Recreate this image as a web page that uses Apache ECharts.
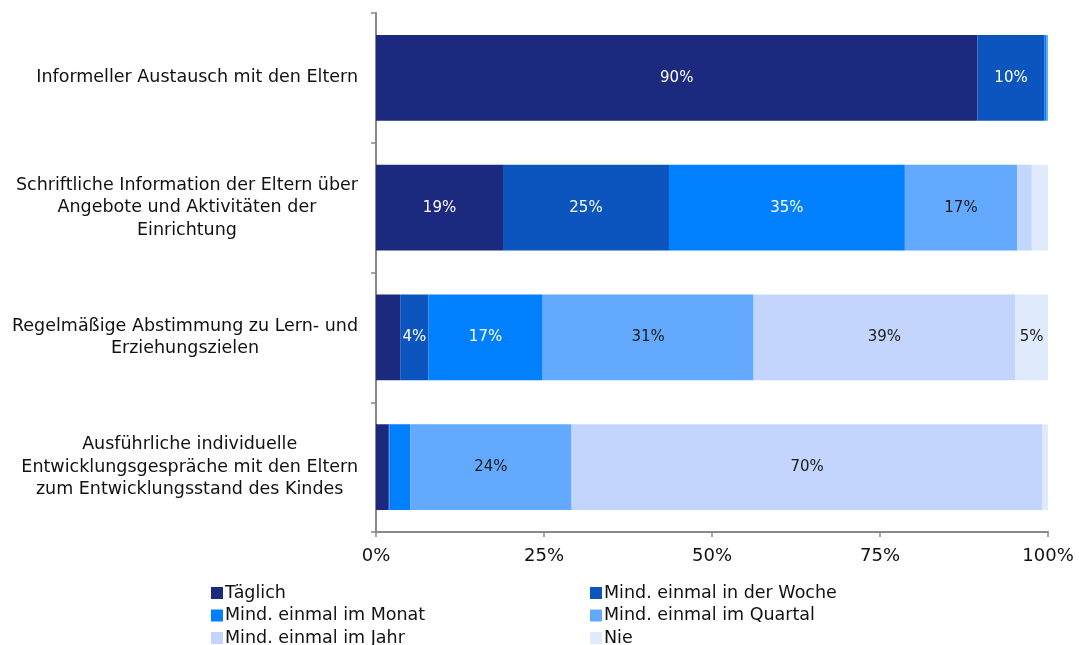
<!DOCTYPE html>
<html>
<head>
<meta charset="utf-8">
<script src="https://cdn.jsdelivr.net/npm/echarts@6/dist/echarts.min.js"></script>
<style>
  html, body { margin: 0; padding: 0; background: #fff; }
  #chart { width: 1079px; height: 645px; }
</style>
</head>
<body>
<div id="chart"></div>
<script>
// Kategorien (von oben nach unten)
const categories = [
  'Informeller Austausch mit den Eltern',
  'Schriftliche Information der Eltern über\nAngebote und Aktivitäten der\nEinrichtung',
  'Regelmäßige Abstimmung zu Lern- und\nErziehungszielen',
  'Ausführliche individuelle\nEntwicklungsgespräche mit den Eltern\nzum Entwicklungsstand des Kindes'
];

// Anteile in Prozent je Häufigkeit
const taeglich = [89.5, 18.9, 3.6, 1.9];
const woche    = [10.0, 24.7, 4.2, 0.1];
const monat    = [0.3, 35.1, 17.0, 3.1];
const quartal  = [0.2, 16.7, 31.4, 24.0];
const jahr     = [0.0, 2.2, 38.9, 70.1];
const nie      = [0.0, 2.4, 4.9, 0.8];

const seriesNames = [
  'Täglich', 'Mind. einmal in der Woche', 'Mind. einmal im Monat',
  'Mind. einmal im Quartal', 'Mind. einmal im Jahr', 'Nie'
];
const seriesData = [taeglich, woche, monat, quartal, jahr, nie];
const colors = ['#1b2a7e', '#0c55bf', '#0080ff', '#63aaff', '#c3d5fd', '#e0eafd'];
const labelColors = ['#ffffff', '#ffffff', '#ffffff', '#1a1a1a', '#1a1a1a', '#1a1a1a'];

const tickLabels = ['0%', '25%', '50%', '75%', '100%'];

const FONT = 'DejaVu Sans';
const TEXT = '#111';

const chart = echarts.init(document.getElementById('chart'), null, { renderer: 'canvas' });

const series = seriesNames.map((name, i) => ({
  name,
  type: 'bar',
  stack: 'total',
  barCategoryGap: '34%',
  data: seriesData[i],
  itemStyle: { color: colors[i] },
  label: {
    show: true,
    position: 'inside',
    color: labelColors[i],
    fontFamily: FONT,
    fontSize: 15,
    formatter: p => (p.value >= 4 ? Math.round(p.value) + '%' : '')
  },
  emphasis: { disabled: true }
}));

const legendText = { fontFamily: FONT, fontSize: 17.5, color: TEXT, lineHeight: 22, padding: [0, 0, 0, -3] };

chart.setOption({
  animation: false,
  color: colors,
  grid: { left: 376, right: 31, top: 13, bottom: 113, containLabel: false },
  xAxis: {
    type: 'value',
    min: 0,
    max: 100,
    interval: 25,
    splitLine: { show: false },
    axisLine: { show: true, lineStyle: { color: '#888', width: 2 } },
    axisTick: { show: true, length: 5, lineStyle: { color: '#888', width: 1.5 } },
    axisLabel: {
      margin: 15,
      fontFamily: FONT,
      fontSize: 18,
      color: TEXT,
      formatter: v => tickLabels[Math.round(v / 25)]
    }
  },
  yAxis: {
    type: 'category',
    inverse: true,
    data: categories,
    axisLine: { show: true, lineStyle: { color: '#888', width: 2 } },
    axisTick: { show: true, length: 5, lineStyle: { color: '#888', width: 1.5 } },
    axisLabel: {
      margin: 18,
      align: 'right',
      fontFamily: FONT,
      fontSize: 17.5,
      color: TEXT,
      lineHeight: 22.5,
      formatter: v => v.split('\n').map(l => '{c|' + l + '}').join('\n'),
      rich: {
        c: { align: 'center', fontFamily: FONT, fontSize: 17.5, color: TEXT, lineHeight: 22.5 }
      }
    }
  },
  legend: [
    {
      orient: 'vertical',
      left: 206,
      top: 577,
      height: 120,
      itemWidth: 12,
      itemHeight: 12,
      itemGap: 0.5,
      icon: 'rect',
      data: ['Täglich', 'Mind. einmal im Monat', 'Mind. einmal im Jahr'],
      textStyle: legendText,
      selectedMode: false
    },
    {
      orient: 'vertical',
      left: 585,
      top: 577,
      height: 120,
      itemWidth: 12,
      itemHeight: 12,
      itemGap: 0.5,
      icon: 'rect',
      data: ['Mind. einmal in der Woche', 'Mind. einmal im Quartal', 'Nie'],
      textStyle: legendText,
      selectedMode: false
    }
  ],
  series
});
</script>
</body>
</html>
